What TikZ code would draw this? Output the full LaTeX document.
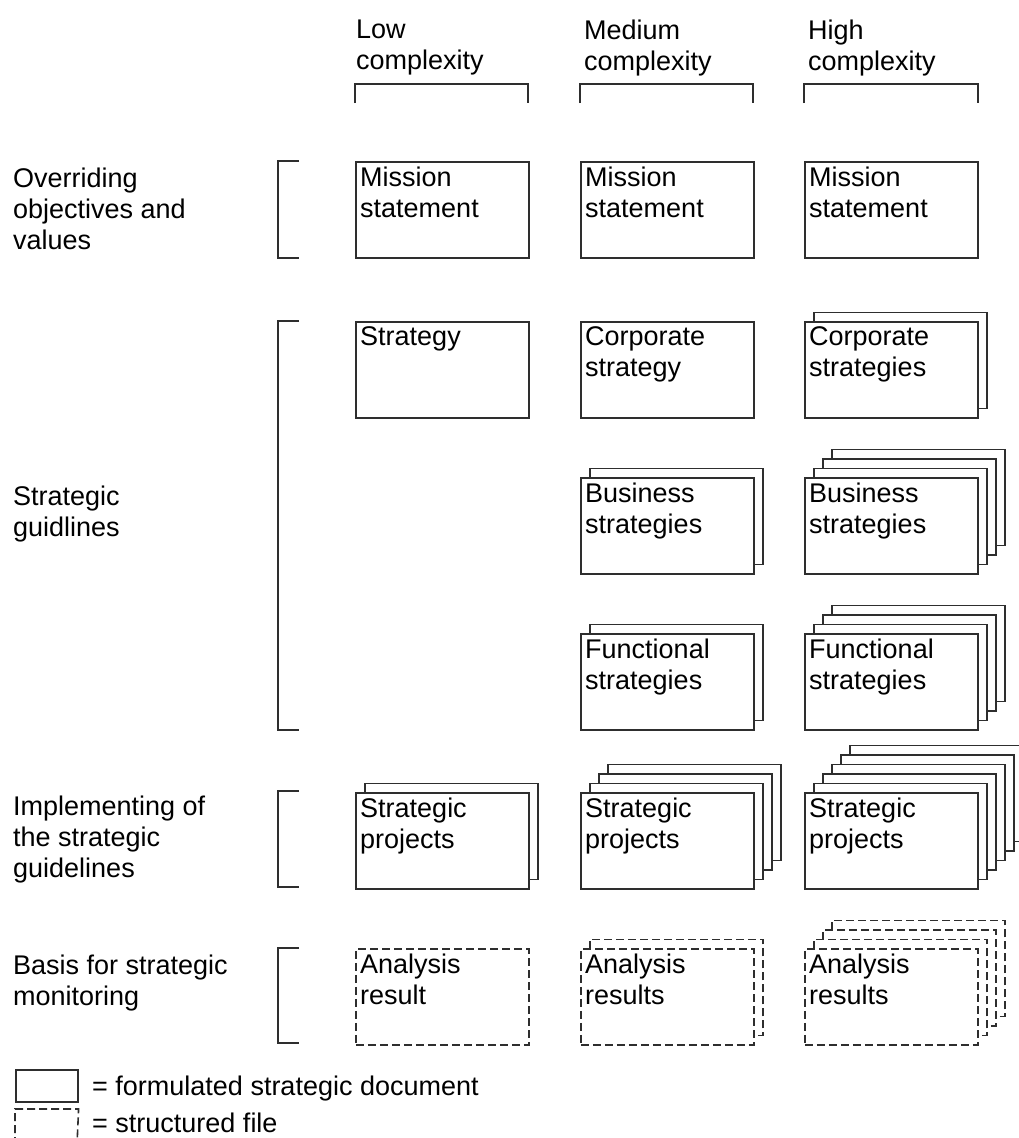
\documentclass[tikz,border=0pt]{standalone}
\usepackage{fontspec}
\setmainfont{Liberation Sans}
\usetikzlibrary{calc}
\definecolor{lc}{gray}{0.18}
\newcommand\stackbox[6]{%
  \ifnum#4>1
    \foreach \k in {#4,...,2}{
      \node[#5] (#1b\k) at ({#2+(\k-1)*9},{#3-(\k-1)*9.5}) {};
    }
  \fi
  \node[#5] (#1) at (#2,#3) {};
  \node[boxtxt] (#1t) at ($(#1.north west)+(5,5.5)$) {#6};
}
\begin{document}
\begin{tikzpicture}[x=1pt,y=-1pt,
  doc/.style={draw=lc, line width=1.6pt, fill=white, rectangle, minimum width=173pt, minimum height=96pt, inner sep=0pt, anchor=north west},
  file/.style={doc, dash pattern=on 8pt off 4pt},
  boxtxt/.style={anchor=north west, inner sep=0pt, align=left, font=\fontsize{27}{31}\selectfont},
  brk/.style={draw=lc, line width=1.6pt}
]
\useasboundingbox[fill=white] (0,0) rectangle (1019,1138);

% column headers
\node[boxtxt] (hL) at (356,20) {Low\\complexity};
\node[boxtxt] (hM) at (584,20) {Medium\\complexity};
\node[boxtxt] (hH) at (808,20) {High\\complexity};
\draw[brk] (355,103) -- (355,84) -- (528,84) -- (528,103);
\draw[brk] (580,103) -- (580,84) -- (753,84) -- (753,103);
\draw[brk] (804,103) -- (804,84) -- (978,84) -- (978,103);

% row labels
\node[boxtxt] (r1) at (13,167.5) {Overriding\\objectives and\\values};
\node[boxtxt] (r2) at (13,485.5) {Strategic\\guidlines};
\node[boxtxt] (r3) at (13,796) {Implementing of\\the strategic\\guidelines};
\node[boxtxt] (r4) at (13,955) {Basis for strategic\\monitoring};

% left brackets
\draw[brk] (299,161) -- (278,161) -- (278,258) -- (299,258);
\draw[brk] (299,321) -- (278,321) -- (278,730) -- (299,730);
\draw[brk] (299,791) -- (278,791) -- (278,887) -- (299,887);
\draw[brk] (299,948) -- (278,948) -- (278,1043) -- (299,1043);

% row 1
\stackbox{mL}{355}{161}{1}{doc}{Mission\\statement}
\stackbox{mM}{580}{161}{1}{doc}{Mission\\statement}
\stackbox{mH}{804}{161}{1}{doc}{Mission\\statement}

% row 2
\stackbox{sL}{355}{321}{1}{doc}{Strategy}
\stackbox{sM}{580}{321}{1}{doc}{Corporate\\strategy}
\stackbox{sH}{804}{321}{2}{doc}{Corporate\\strategies}

\stackbox{bM}{580}{477}{2}{doc}{Business\\strategies}
\stackbox{bH}{804}{477}{4}{doc}{Business\\strategies}

\stackbox{fM}{580}{633}{2}{doc}{Functional\\strategies}
\stackbox{fH}{804}{633}{4}{doc}{Functional\\strategies}

% row 3
\stackbox{pL}{355}{792}{2}{doc}{Strategic\\projects}
\stackbox{pM}{580}{792}{4}{doc}{Strategic\\projects}
\stackbox{pH}{804}{792}{6}{doc}{Strategic\\projects}

% row 4
\stackbox{aL}{355}{948}{1}{file}{Analysis\\result}
\stackbox{aM}{580}{948}{2}{file}{Analysis\\results}
\stackbox{aH}{804}{948}{4}{file}{Analysis\\results}

% legend
\node[doc, minimum width=62pt, minimum height=32pt] (lg1) at (15,1069) {};
\node[file, minimum width=62pt, minimum height=36pt, draw=none] (lg2) at (15,1109) {};
\draw[brk, dash pattern=on 8pt off 4pt] (15,1145) -- (lg2.north west) -- (lg2.north east) -- (77,1145);
\node[anchor=base west, inner sep=0pt, font=\fontsize{27}{31}\selectfont] (lt1) at (92,1095) {= formulated strategic document};
\node[anchor=base west, inner sep=0pt, font=\fontsize{27}{31}\selectfont] (lt2) at (92,1132) {= structured file};
\end{tikzpicture}
\end{document}
